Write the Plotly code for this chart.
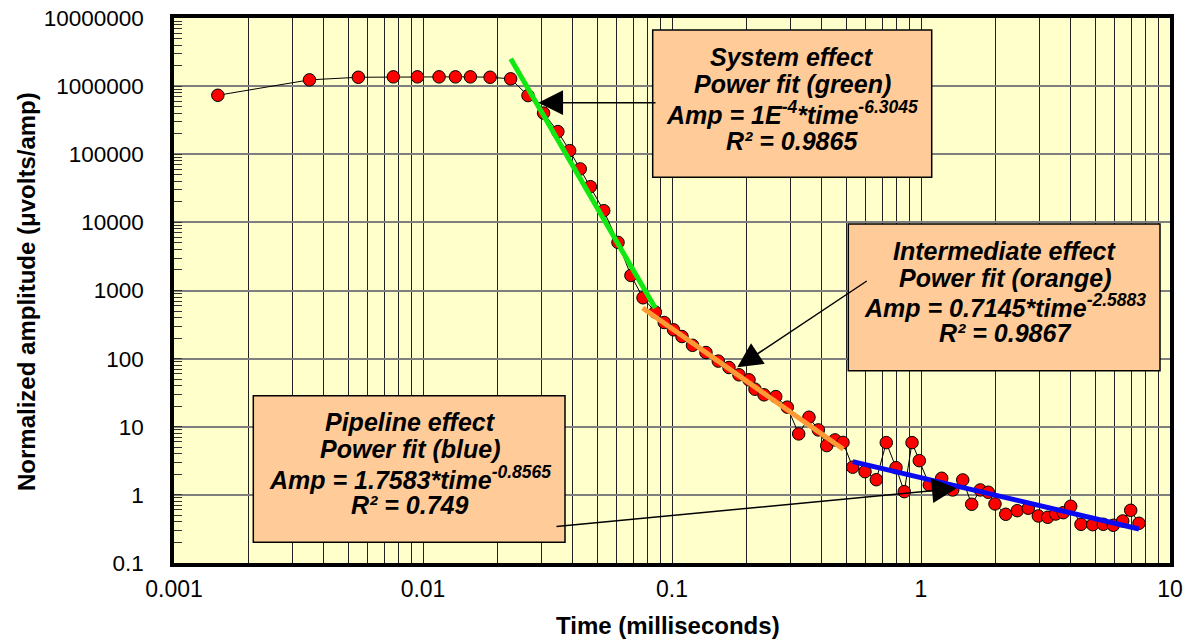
import plotly.graph_objects as go

# ---------------- data ----------------
time_ms = [0.0015, 0.0035, 0.0055, 0.0076, 0.0095, 0.0116, 0.0135, 0.0155, 0.0186, 0.0225,
           0.0264, 0.0305, 0.0348, 0.0388, 0.0428, 0.0470, 0.0532, 0.0607, 0.0684, 0.0765,
           0.0857, 0.0931, 0.1014, 0.1097, 0.1209, 0.1369, 0.1534, 0.1694, 0.1858, 0.2038,
           0.2154, 0.2342, 0.2610, 0.2905, 0.3227, 0.3549, 0.3870, 0.4182, 0.4515, 0.4861,
           0.5318, 0.5958, 0.6614, 0.7253, 0.7935, 0.8567, 0.9203, 0.9845, 1.080, 1.211,
           1.341, 1.471, 1.598, 1.730, 1.863, 1.982, 2.189, 2.436, 2.697, 2.959,
           3.227, 3.475, 3.728, 3.993, 4.391, 4.894, 5.396, 5.920, 6.457, 6.953, 7.507]
amplitude = [734000, 1236000, 1350000, 1368000, 1368000, 1368000, 1368000, 1368000, 1350000, 1279000,
             726600, 402000, 214900, 113000, 60850, 33440, 14840, 5078, 1663, 782,
             482, 339, 265, 211, 156.8, 122.9, 91.9, 74.0, 57.8, 48.8,
             35.6, 29.4, 27.7, 19.4, 7.85, 13.8, 8.99, 5.29, 6.41, 5.89,
             2.55, 2.19, 1.67, 5.85, 2.51, 1.115, 5.85, 3.18, 1.398, 1.754,
             1.181, 1.656, 0.728, 1.181, 1.093, 0.736, 0.519, 0.586, 0.636, 0.490,
             0.469, 0.524, 0.548, 0.681, 0.370, 0.365, 0.370, 0.358, 0.414, 0.594, 0.383]

# power-fit segments (end points)
green_t = [0.02251, 0.08567]
green_amp = [2515000, 552]
orange_t = [0.07625, 0.4875]
orange_amp = [552, 4.68]
blue_t = [0.5318, 7.507]
blue_amp = [3.08, 0.316]

x_tick_vals = [0.001, 0.01, 0.1, 1, 10]
x_tick_text = ["0.001", "0.01", "0.1", "1", "10"]
y_tick_vals = [0.1, 1, 10, 100, 1000, 10000, 100000, 1000000, 10000000]
y_tick_text = ["0.1", "1", "10", "100", "1000", "10000", "100000", "1000000", "10000000"]

system_lines = ["System effect", "Power fit (green)",
                "Amp = 1E<sup>-4</sup>*time<sup>-6.3045</sup>", "R² = 0.9865"]
intermediate_lines = ["Intermediate effect", "Power fit (orange)",
                      "Amp = 0.7145*time<sup>-2.5883</sup>", "R² = 0.9867"]
pipeline_lines = ["Pipeline effect", "Power fit (blue)",
                  "Amp = 1.7583*time<sup>-0.8565</sup>", "R² = 0.749"]

# ---------------- layout helpers ----------------
W, H = 1194, 641
L, R, T, B = 174, 24, 18, 78
PW, PH = W - L - R, H - T - B


def pap(x, y):
    return (x - L) / PW, (H - B - y) / PH


FONT = "Liberation Sans, Arial, sans-serif"

minor_x = [m * 10 ** e for e in range(-3, 1) for m in range(2, 10)]
minor_y = [m * 10.0 ** e for e in range(-1, 7) for m in range(2, 10)]

fig = go.Figure()

fig.add_trace(go.Scatter(
    x=time_ms, y=amplitude, mode="lines+markers",
    line=dict(color="black", width=1),
    marker=dict(size=12.5, color="#FF0000", line=dict(color="black", width=1)),
    showlegend=False))

for tx, ay, col in [(green_t, green_amp, "#11E811"),
                    (orange_t, orange_amp, "#FF9933"),
                    (blue_t, blue_amp, "#0A0AF0")]:
    fig.add_trace(go.Scatter(x=tx, y=ay, mode="lines",
                             line=dict(color=col, width=5), showlegend=False))

shapes = []
annotations = []


def add_box(x0, y0, x1, y1, lines, cx, ys):
    a, b = pap(x0, y1)
    c, d = pap(x1, y0)
    shapes.append(dict(type="rect", xref="paper", yref="paper", x0=a, y0=b, x1=c, y1=d,
                       fillcolor="#FFCC99", line=dict(color="black", width=1.5), layer="above"))
    for txt, yy in zip(lines, ys):
        px_, py_ = pap(cx, yy - 5)
        annotations.append(dict(xref="paper", yref="paper", x=px_, y=py_, text="<b><i>" + txt + "</i></b>",
                                showarrow=False, xanchor="center", yanchor="middle",
                                font=dict(family=FONT, size=25, color="black")))


add_box(652.7, 30, 931.7, 177.3, system_lines, 792, [61.7, 89, 117.7, 145.7])
add_box(848.3, 224, 1160, 370.7, intermediate_lines, 1005, [256, 283.4, 310.7, 338.4])
add_box(253.3, 395.7, 565, 542.3, pipeline_lines, 410, [427.4, 454, 482.7, 510])


def add_arrow(hx, hy, tx, ty):
    x, y = pap(hx, hy)
    annotations.append(dict(xref="paper", yref="paper", x=x, y=y, text="",
                            ax=tx - hx, ay=ty - hy, showarrow=True,
                            arrowhead=2, arrowsize=3.3, arrowwidth=1.5, arrowcolor="black"))


add_arrow(538.3, 102.7, 657, 102.7)
add_arrow(737.3, 367.3, 868.3, 280)
add_arrow(956.7, 488.3, 555, 526.7)

fig.update_layout(
    width=W, height=H,
    margin=dict(l=L, r=R, t=T, b=B, autoexpand=False),
    paper_bgcolor="white", plot_bgcolor="#FFFFCC",
    shapes=shapes,
    font=dict(family=FONT, color="black"),
)

fig.update_xaxes(
    type="log", range=[-3, 1], automargin=False,
    tickmode="array", tickvals=x_tick_vals, ticktext=x_tick_text,
    tickfont=dict(size=23, family=FONT), ticks="", ticklabelstandoff=3,
    showgrid=True, gridcolor="#222222", gridwidth=1.3,
    minor=dict(tickmode="array", tickvals=minor_x, showgrid=True, gridcolor="#222222", gridwidth=1.3, ticks=""),
    showline=True, linecolor="black", linewidth=3.5, mirror=True,
    zeroline=False,
)
fig.update_yaxes(
    type="log", range=[-1, 7], automargin=False,
    tickmode="array", tickvals=y_tick_vals, ticktext=y_tick_text,
    tickfont=dict(size=22.5, family=FONT), ticks="inside", ticklen=8, tickcolor="#333333",
    ticklabelstandoff=22,
    showgrid=True, gridcolor="#7F7F7F", gridwidth=2,
    minor=dict(tickmode="array", tickvals=minor_y, ticks="inside", ticklen=8,
               tickcolor="#333333", tickwidth=1, showgrid=False),
    showline=True, linecolor="black", linewidth=3.5, mirror=True,
    zeroline=False,
)

# axis titles placed as annotations
xx, xy = pap(668, 625)
annotations.append(dict(xref="paper", yref="paper", x=xx, y=xy, text="<b>Time (milliseconds)</b>",
                        showarrow=False, xanchor="center", yanchor="middle",
                        font=dict(family=FONT, size=24, color="black")))
yx, yy = pap(27, 292)
annotations.append(dict(xref="paper", yref="paper", x=yx, y=yy, text="<b>Normalized amplitude (μvolts/amp)</b>",
                        textangle=-90, showarrow=False, xanchor="center", yanchor="middle",
                        font=dict(family=FONT, size=24, color="black")))
fig.update_layout(annotations=annotations)

fig.write_html("out.html", post_script="document.body.style.margin='0';",
               config={"displayModeBar": False})
